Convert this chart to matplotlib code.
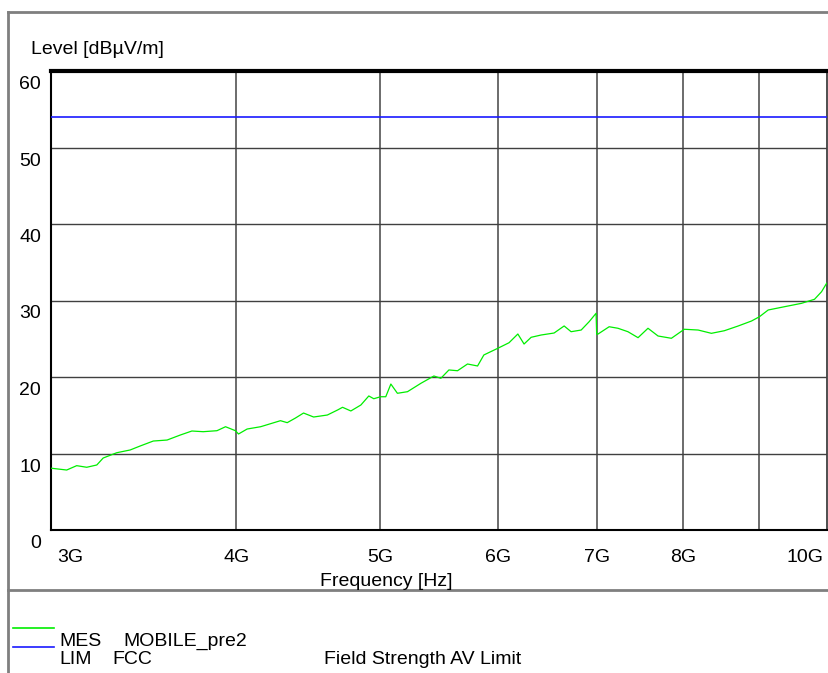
import matplotlib
matplotlib.use("Agg")
import matplotlib.pyplot as plt
from matplotlib.lines import Line2D
from matplotlib.ticker import NullLocator
import matplotlib.transforms as mtransforms
import numpy as np

plt.rcParams["font.family"] = ["Liberation Sans", "DejaVu Sans"]

# measured trace (frequency in GHz, level in dBuV/m)
mes_ghz = [3.003, 3.074, 3.122, 3.171, 3.221, 3.253, 3.322, 3.392, 3.445, 3.516,
           3.592, 3.667, 3.733, 3.799, 3.881, 3.933, 3.994, 4.013, 4.067, 4.153,
           4.283, 4.328, 4.384, 4.439, 4.509, 4.606, 4.680, 4.716, 4.777, 4.852,
           4.912, 4.950, 5.003, 5.043, 5.083, 5.135, 5.216, 5.326, 5.434, 5.493,
           5.562, 5.637, 5.725, 5.815, 5.872, 6.000, 6.106, 6.190, 6.250, 6.319,
           6.418, 6.548, 6.651, 6.723, 6.829, 6.914, 6.989, 6.995, 7.008, 7.132,
           7.230, 7.343, 7.459, 7.575, 7.694, 7.855, 8.014, 8.188, 8.358, 8.528,
           8.713, 8.895, 9.005, 9.128, 9.363, 9.612, 9.808, 9.916, 9.994]
mes_db = [8.07, 7.84, 8.41, 8.20, 8.50, 9.41, 10.10, 10.46, 10.98, 11.63,
          11.76, 12.42, 12.94, 12.85, 12.98, 13.50, 12.98, 12.55, 13.20, 13.50,
          14.29, 14.03, 14.64, 15.29, 14.77, 15.03, 15.69, 16.04, 15.56, 16.34,
          17.52, 17.16, 17.42, 17.42, 19.08, 17.87, 18.08, 19.18, 20.13, 19.83,
          20.92, 20.82, 21.70, 21.44, 22.88, 23.75, 24.48, 25.62, 24.31, 25.19,
          25.49, 25.75, 26.67, 25.92, 26.14, 27.23, 28.33, 25.60, 25.60, 26.57,
          26.37, 25.92, 25.14, 26.37, 25.36, 25.06, 26.24, 26.14, 25.71, 26.05,
          26.67, 27.32, 27.88, 28.76, 29.19, 29.63, 30.16, 31.15, 32.25]

# FCC average limit
lim_ghz = [3.0, 10.0]
lim_db = [54.0, 54.0]

y_ticks = [0, 10, 20, 30, 40, 50, 60]
x_ticks_ghz = [3, 4, 5, 6, 7, 8, 10]
x_tick_labels = ["3G", "4G", "5G", "6G", "7G", "8G", "10G"]
x_grid_ghz = [4, 5, 6, 7, 8, 9]

FS = 14
W, H = 829, 673
fig = plt.figure(figsize=(W / 100, H / 100), dpi=100)
ax = fig.add_axes([51 / W, 1 - 530 / H, 776 / W, 459 / H])

ax.set_xscale("log")
ax.set_xlim(3e9, 1e10)
ax.set_ylim(0, 60)
ax.xaxis.set_major_locator(NullLocator())
ax.xaxis.set_minor_locator(NullLocator())
ax.yaxis.set_major_locator(NullLocator())

for f in x_grid_ghz:
    ax.axvline(f * 1e9, color="#606060", lw=1.3, zorder=1)
for v in y_ticks[1:-1]:
    ax.axhline(v, color="#404040", lw=1.0, zorder=1)

ax.plot(np.array(lim_ghz) * 1e9, lim_db, color="#1a1aff", lw=1.2, zorder=3)
ax.plot(np.array(mes_ghz) * 1e9, mes_db, color="#00ee00", lw=0.9, zorder=4)

for side in ["left", "bottom"]:
    ax.spines[side].set_linewidth(1.5)
    ax.spines[side].set_color("black")
ax.spines["top"].set_linewidth(3)
ax.spines["top"].set_color("black")
ax.spines["right"].set_linewidth(1.3)
ax.spines["right"].set_color("#404040")

# tick labels sit just below their grid line
off_y = mtransforms.ScaledTranslation(-10 / 100, -5 / 100, fig.dpi_scale_trans)
ytr = mtransforms.blended_transform_factory(ax.transAxes, ax.transData) + off_y
for v in y_ticks:
    ax.text(0, v, str(v), transform=ytr, ha="right", va="top", fontsize=FS)

off_x = mtransforms.ScaledTranslation(0, -19 / 100, fig.dpi_scale_trans)
xtr = mtransforms.blended_transform_factory(ax.transData, ax.transAxes) + off_x
for f, lab in zip(x_ticks_ghz, x_tick_labels):
    if lab == "3G":
        ax.text(f * 1e9 * 1.01, 0, lab, transform=xtr, ha="left", va="top", fontsize=FS)
    elif lab == "10G":
        ax.text(f * 1e9 * 0.995, 0, lab, transform=xtr, ha="right", va="top", fontsize=FS)
    else:
        ax.text(f * 1e9, 0, lab, transform=xtr, ha="center", va="top", fontsize=FS)

fig.text(31 / W, 1 - 50 / H, "Level [dB\u00b5V/m]", ha="left", va="center", fontsize=FS)
fig.text(386 / W, 1 - 581 / H, "Frequency [Hz]", ha="center", va="center", fontsize=FS)

# outer frame and legend separator
frame = "#7f7f7f"
fig.add_artist(Line2D([8.5 / W, 8.5 / W], [0, 1 - 12 / H], color=frame, lw=2))
fig.add_artist(Line2D([8 / W, 1], [1 - 12 / H, 1 - 12 / H], color=frame, lw=2))
fig.add_artist(Line2D([8 / W, 1], [1 - 590 / H, 1 - 590 / H], color=frame, lw=2))

# legend
fig.add_artist(Line2D([13 / W, 54 / W], [1 - 628 / H] * 2, color="#00ee00", lw=1.2))
fig.add_artist(Line2D([13 / W, 54 / W], [1 - 647 / H] * 2, color="#1a1aff", lw=1.2))
fig.text(59 / W, 1 - 641 / H, "MES", ha="left", va="center", fontsize=FS)
fig.text(123 / W, 1 - 641 / H, "MOBILE_pre2", ha="left", va="center", fontsize=FS)
fig.text(59 / W, 1 - 659 / H, "LIM", ha="left", va="center", fontsize=FS)
fig.text(112 / W, 1 - 659 / H, "FCC", ha="left", va="center", fontsize=FS)
fig.text(324 / W, 1 - 659 / H, "Field Strength AV Limit", ha="left", va="center", fontsize=FS)

fig.savefig("out.png", dpi=100)
